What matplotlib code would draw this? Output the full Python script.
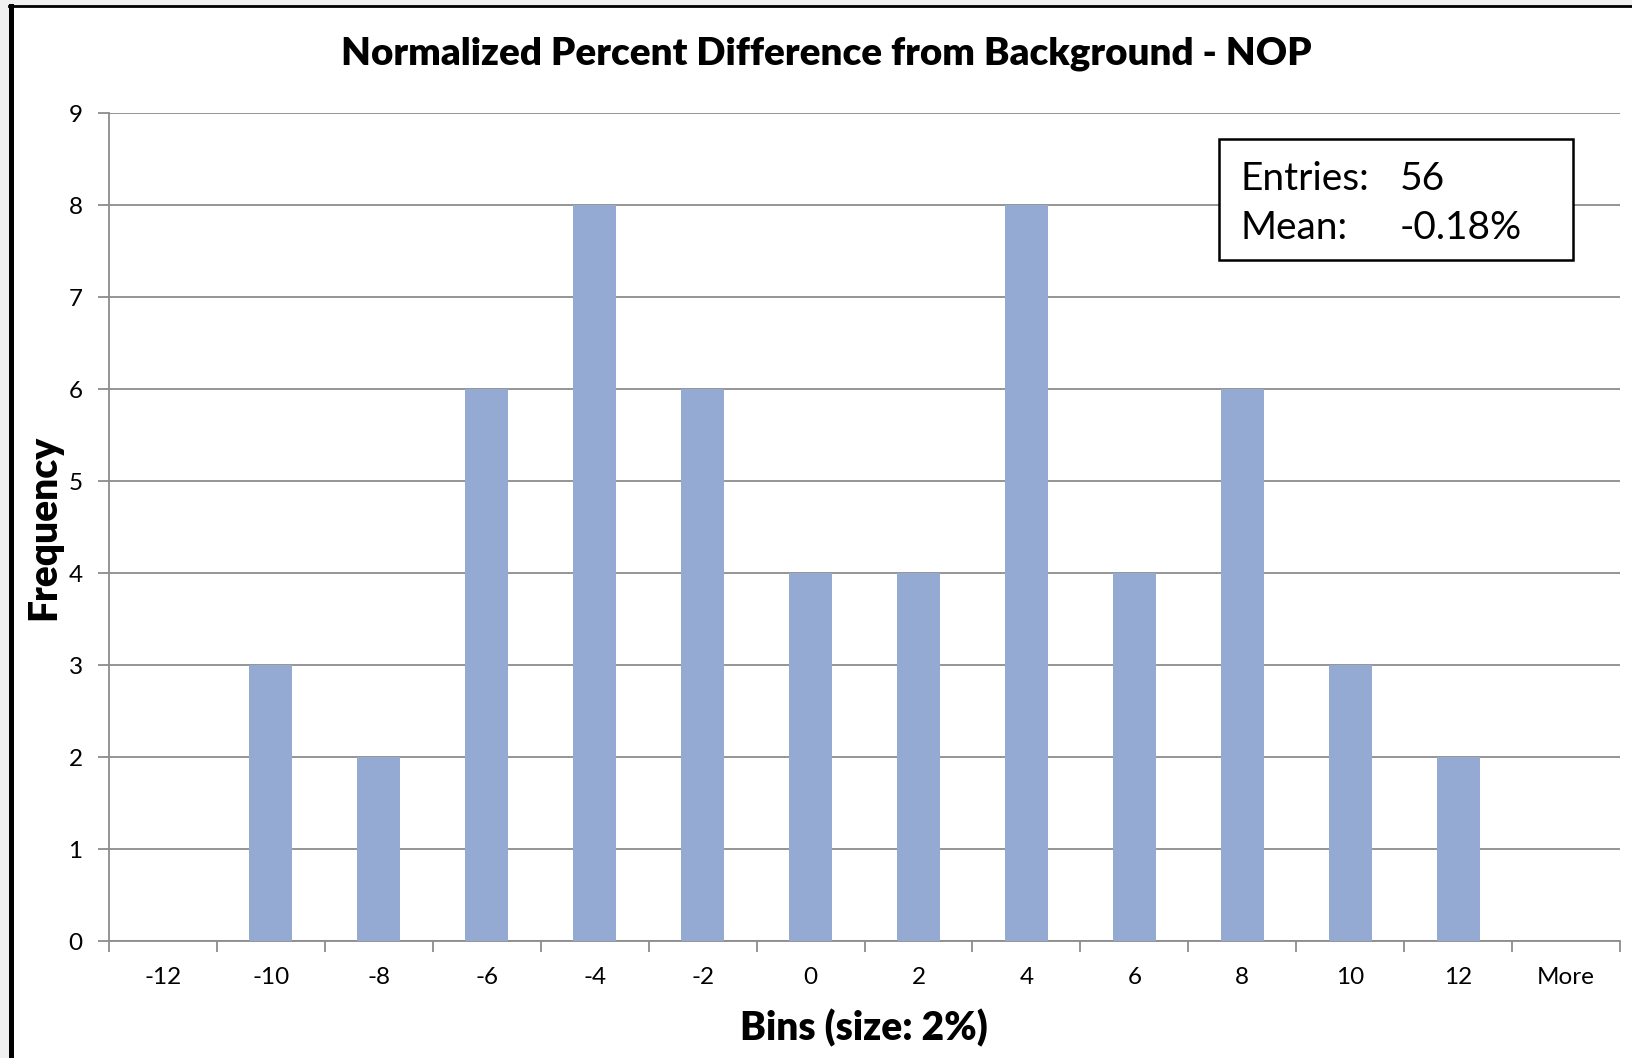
import matplotlib.pyplot as plt
import matplotlib.patches as patches
import matplotlib.lines as mlines
import numpy as np

plt.rcParams['font.family'] = ['Lato', 'DejaVu Sans']

# data
bins = ['-12', '-10', '-8', '-6', '-4', '-2', '0', '2', '4', '6', '8', '10', '12', 'More']
frequency = [0, 3, 2, 6, 8, 6, 4, 4, 8, 4, 6, 3, 2, 0]
entries = 56
mean_text = '-0.18%'

W, H = 1632, 1058
fig = plt.figure(figsize=(W / 100, H / 100), dpi=100)
fig.patch.set_facecolor('#f0f0f0')

# white chart area with black border on left / top (behind the axes)
fig.patches.append(patches.Rectangle((11 / W, 0), 1, 1 - 6 / H, transform=fig.transFigure,
                                     facecolor='white', edgecolor='none', zorder=-10))
fig.lines.append(mlines.Line2D([10.5 / W, 10.5 / W], [0, 1 - 6 / H], transform=fig.transFigure,
                               color='black', linewidth=3.6, zorder=-5))
fig.lines.append(mlines.Line2D([9 / W, 1], [1 - 6 / H, 1 - 6 / H], transform=fig.transFigure,
                               color='black', linewidth=2, zorder=-5))

ax = fig.add_axes([109 / W, 1 - 941 / H, (1620 - 109) / W, (941 - 113) / H])
ax.set_facecolor('none')

x = np.arange(len(bins))
ax.bar(x, frequency, width=0.4, color='#95aad2', zorder=3)

ax.set_xlim(-0.5, len(bins) - 0.5)
ax.set_ylim(0, 9)
ax.set_yticks(range(0, 10))
ax.yaxis.grid(True, color='#8c8c8c', linewidth=1.3, zorder=1)
ax.set_axisbelow(True)

# ticks between categories, labels centred
ax.set_xticks(np.arange(-0.5, len(bins), 1))
ax.set_xticklabels([])
ax.set_xticks(x, minor=True)
ax.set_xticklabels(bins, minor=True)
ax.tick_params(axis='x', which='major', length=8, width=1.3, color='#8c8c8c', direction='out')
ax.tick_params(axis='x', which='minor', length=0, labelsize=17.5, pad=19)
ax.tick_params(axis='y', length=8, width=1.3, color='#8c8c8c', direction='out', labelsize=17.5, pad=11)

for side in ['top', 'right']:
    ax.spines[side].set_visible(False)
for side in ['left', 'bottom']:
    ax.spines[side].set_color('#8c8c8c')
    ax.spines[side].set_linewidth(1.3)

fig.text(826 / W, 1 - 54 / H, 'Normalized Percent Difference from Background - NOP',
         ha='center', va='center', fontsize=27.7, fontweight='heavy')
fig.text(864 / W, 1 - 1028 / H, 'Bins (size: 2%)', ha='center', va='center',
         fontsize=28, fontweight='heavy')
fig.text(44 / W, 1 - 527 / H, 'Frequency', ha='center', va='center', rotation=90,
         fontsize=28, fontweight='heavy')

# stats box
fig.patches.append(patches.Rectangle((1219 / W, 1 - 260 / H), (1573 - 1219) / W, (260 - 139) / H,
                                     transform=fig.transFigure, facecolor='white',
                                     edgecolor='black', linewidth=1.8, zorder=5))
fig.text(1240 / W, 1 - 179 / H, 'Entries:', ha='left', va='center', fontsize=28, zorder=6)
fig.text(1400 / W, 1 - 179 / H, str(entries), ha='left', va='center', fontsize=28, zorder=6)
fig.text(1240 / W, 1 - 228 / H, 'Mean:', ha='left', va='center', fontsize=28, zorder=6)
fig.text(1400 / W, 1 - 228 / H, mean_text, ha='left', va='center', fontsize=28, zorder=6)

fig.savefig('out.png', dpi=100, facecolor=fig.get_facecolor())
